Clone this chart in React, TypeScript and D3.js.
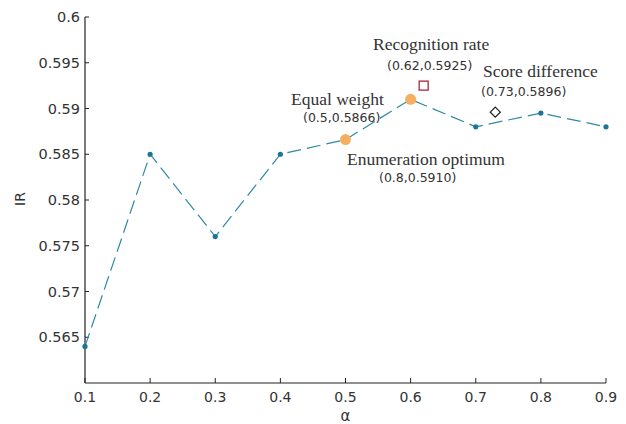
import React from 'react';
import * as d3 from 'd3';

// data
const alphas = [0.1, 0.2, 0.3, 0.4, 0.5, 0.6, 0.7, 0.8, 0.9];
const irValues = [0.564, 0.585, 0.576, 0.585, 0.5866, 0.591, 0.588, 0.5895, 0.588];
const xTicks = [0.1, 0.2, 0.3, 0.4, 0.5, 0.6, 0.7, 0.8, 0.9];
const yTicks = [0.565, 0.57, 0.575, 0.58, 0.585, 0.59, 0.595, 0.6];
// highlighted methods
const orangePoints = [
  { x: 0.5, y: 0.5866 },
  { x: 0.6, y: 0.591 },
];
const squarePoint = { x: 0.62, y: 0.5925 };
const diamondPoint = { x: 0.73, y: 0.5896 };
const annotations = [
  { title: 'Recognition rate', coord: '(0.62,0.5925)', tx: 373, ty: 50, cx: 387, cy: 70 },
  { title: 'Equal weight', coord: '(0.5,0.5866)', tx: 291, ty: 105, cx: 303, cy: 122 },
  { title: 'Enumeration optimum', coord: '(0.8,0.5910)', tx: 347, ty: 165, cx: 379, cy: 182 },
  { title: 'Score difference', coord: '(0.73,0.5896)', tx: 483, ty: 77, cx: 481, cy: 96 },
];

const width = 626;
const height = 424;
const margin = { top: 17, right: 20, bottom: 41, left: 85 };
const sans = 'DejaVu Sans, sans-serif';
const serif = 'Liberation Serif, Times New Roman, serif';
const textColor = '#333';

export default function App() {
  const x = d3.scaleLinear().domain([0.1, 0.9]).range([margin.left, width - margin.right - 0]);
  x.range([85, 606]);
  const y = d3.scaleLinear().domain([0.56, 0.6]).range([383, 17]);

  const line = d3
    .line<number>()
    .x((d, i) => x(alphas[i]))
    .y((d) => y(d));

  const sq = 9;
  const dm = 5;
  const dx = x(diamondPoint.x);
  const dy = y(diamondPoint.y);

  return (
    <svg
      width={width}
      height={height}
      style={{ position: 'absolute', left: 0, top: 0, background: '#fff' }}
    >
      {/* axes */}
      <line x1={x(0.1)} x2={x(0.9)} y1={y(0.56)} y2={y(0.56)} stroke="#222" strokeWidth={1.2} />
      <line x1={x(0.1)} x2={x(0.1)} y1={y(0.56)} y2={y(0.6)} stroke="#222" strokeWidth={1.2} />
      {xTicks.map((t) => (
        <g key={'x' + t}>
          <line x1={x(t)} x2={x(t)} y1={y(0.56)} y2={y(0.56) - 5} stroke="#222" strokeWidth={1} />
          <text
            x={x(t)}
            y={402}
            textAnchor="middle"
            fontFamily={sans}
            fontSize={14}
            fill={textColor}
          >
            {t}
          </text>
        </g>
      ))}
      {yTicks.map((t) => (
        <g key={'y' + t}>
          <line x1={x(0.1)} x2={x(0.1) + 4} y1={y(t)} y2={y(t)} stroke="#222" strokeWidth={1} />
          <text
            x={80}
            y={y(t)}
            dy="0.36em"
            textAnchor="end"
            fontFamily={sans}
            fontSize={14.5}
            fill={textColor}
          >
            {t}
          </text>
        </g>
      ))}
      <text
        transform={`translate(25, 199) rotate(-90)`}
        textAnchor="middle"
        fontFamily={sans}
        fontSize={14}
        fill={textColor}
      >
        IR
      </text>
      <text x={x(0.5)} y={421} textAnchor="middle" fontFamily={sans} fontSize={15} fill={textColor}>
        α
      </text>

      {/* series */}
      <path
        d={line(irValues) || ''}
        fill="none"
        stroke="#2f8aa5"
        strokeWidth={1.2}
        strokeDasharray="14,6"
      />
      {irValues.map((v, i) => (
        <circle key={'p' + i} cx={x(alphas[i])} cy={y(v)} r={2.6} fill="#1c7594" />
      ))}

      {/* methods */}
      {orangePoints.map((p, i) => (
        <circle key={'o' + i} cx={x(p.x)} cy={y(p.y)} r={5.5} fill="#f5ae62" />
      ))}
      <rect
        x={x(squarePoint.x) - sq / 2}
        y={y(squarePoint.y) - sq / 2}
        width={sq}
        height={sq}
        fill="#fff"
        stroke="#a3283a"
        strokeWidth={1.3}
      />
      <path
        d={`M${dx},${dy - dm}L${dx + dm},${dy}L${dx},${dy + dm}L${dx - dm},${dy}Z`}
        fill="#fff"
        stroke="#222"
        strokeWidth={1.3}
      />

      {annotations.map((a) => (
        <g key={a.title}>
          <text x={a.tx} y={a.ty} fontFamily={serif} fontSize={17.5} fill={textColor}>
            {a.title}
          </text>
          <text x={a.cx} y={a.cy} fontFamily={sans} fontSize={12.5} fill={textColor}>
            {a.coord}
          </text>
        </g>
      ))}
    </svg>
  );
}
